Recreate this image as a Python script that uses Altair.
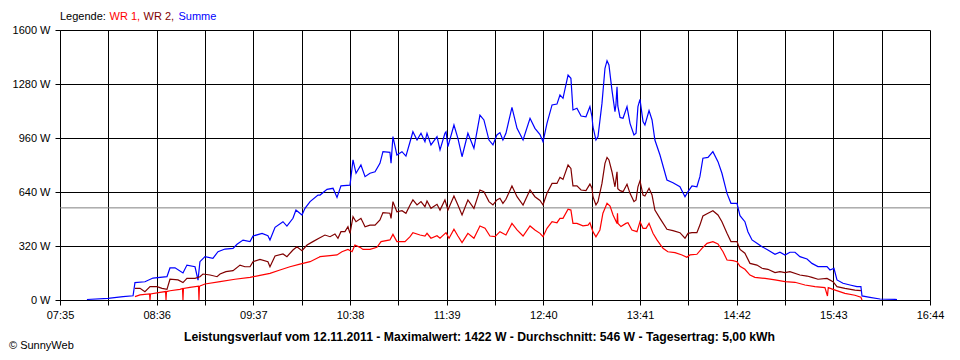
import altair as alt
import pandas as pd

# ---- data (minutes since midnight, Watt) ----
sum_t = [472.0, 485.3, 494.8, 501.1, 502.3, 508.6, 513.7, 522.5, 524.4, 527.6, 532.6, 535.1, 540.2, 542.1,
         543.3, 546.5, 551.5, 554.7, 559.1, 564.2, 566.7, 570.5, 574.9, 576.8, 582.5, 586.2, 587.5, 590.7,
         595.7, 598.2, 602.0, 603.9, 607.7, 609.6, 612.8, 617.8, 619.1, 623.5, 627.3, 629.8, 632.3, 638.0,
         639.9, 641.8, 644.9, 647.5, 650.6, 653.8, 656.9, 658.8, 663.2, 663.9, 665.1, 667.6, 670.8, 673.3,
         675.9, 677.7, 680.3, 682.8, 685.3, 686.6, 689.1, 692.9, 694.8, 697.9, 698.6, 699.8, 703.6, 706.1,
         708.7, 712.4, 716.2, 720.0, 722.5, 725.7, 728.2, 730.7, 732.6, 734.5, 736.4, 740.2, 743.4, 747.2,
         751.6, 754.7, 757.9, 759.8, 762.3, 765.5, 768.6, 770.5, 772.4, 775.6, 777.4, 778.7, 781.2, 783.8,
         786.9, 789.4, 790.7, 791.3, 793.2, 794.5, 797.0, 798.9, 800.2, 801.4, 803.3, 805.2, 805.8, 806.5,
         807.0, 808.4, 810.3, 812.8, 814.7, 817.2, 818.5, 819.7, 821.0, 822.9, 824.1, 826.7, 828.6, 830.4,
         833.6, 838.0, 841.8, 846.2, 849.4, 851.3, 853.8, 856.9, 858.8, 860.7, 863.9, 867.0, 870.2, 872.7,
         875.9, 878.4, 882.2, 884.1, 887.2, 889.1, 891.7, 894.8, 898.0, 901.7, 906.2, 909.3, 912.5, 915.6,
         918.8, 921.9, 926.4, 929.5, 933.3, 935.8, 939.0, 940.9, 943.4, 945.3, 949.1, 953.5, 957.9, 960.4,
         961.1, 966.1, 972.4, 981.9, 983.2]
sum_w = [3, 10, 20, 25, 103, 108, 130, 138, 190, 191, 160, 207, 197, 118,
         227, 257, 247, 286, 302, 306, 330, 355, 346, 379, 395, 381, 356, 431,
         464, 438, 484, 533, 504, 543, 583, 622, 622, 656, 662, 608, 676, 681,
         830, 751, 800, 731, 751, 760, 810, 879, 875, 810, 968, 859, 879, 853,
         938, 997, 948, 988, 938, 988, 919, 968, 889, 988, 997, 909, 1037, 958,
         849, 988, 899, 1096, 1067, 948, 919, 978, 992, 948, 988, 1142, 1017, 948,
         1077, 1017, 980, 938, 1047, 1156, 1161, 1215, 1195, 1333, 1314, 1126, 1136, 1090,
         1086, 1146, 1086, 1027, 948, 968, 1165, 1373, 1418, 1393, 1244, 1116, 1156, 1264,
         1150, 1082, 1077, 1146, 1047, 978, 988, 1146, 1189, 1057, 1037, 1122, 1067, 948,
         859, 711, 695, 671, 612, 642, 676, 671, 731, 840, 845, 879, 820, 751,
         632, 573, 573, 500, 464, 405, 356, 336, 316, 296, 271, 283, 267, 283,
         283, 257, 243, 217, 198, 198, 198, 178, 188, 119, 99, 89, 79, 79,
         24, 16, 6, 4, 3]

wr2_t = [502.3, 505.5, 508.6, 511.8, 516.2, 519.4, 522.5, 524.4, 529.5, 532.6, 535.1, 540.2, 543.3, 545.2,
         549.7, 554.1, 556.0, 559.7, 564.2, 568.6, 571.7, 574.9, 576.8, 581.2, 586.2, 587.5, 590.7, 595.7,
         598.2, 602.0, 604.5, 607.7, 610.9, 614.6, 618.4, 622.2, 625.4, 628.5, 630.4, 632.3, 634.8, 636.7,
         638.0, 639.9, 641.8, 644.9, 647.5, 650.6, 653.8, 656.9, 658.8, 663.2, 663.9, 665.1, 667.6, 670.8,
         673.3, 675.9, 677.7, 680.3, 682.8, 685.3, 686.6, 689.1, 692.9, 694.8, 697.9, 699.8, 703.6, 706.1,
         708.7, 712.4, 716.2, 720.0, 722.5, 725.7, 728.2, 730.7, 732.6, 734.5, 736.4, 740.2, 743.4, 747.2,
         751.6, 754.7, 757.9, 759.8, 762.3, 765.5, 768.6, 770.5, 772.4, 775.6, 777.4, 778.7, 781.2, 783.8,
         786.9, 789.4, 790.7, 791.3, 793.2, 794.5, 797.0, 798.9, 800.2, 801.4, 803.3, 805.2, 806.5, 807.0,
         808.4, 810.3, 812.8, 814.7, 817.2, 818.5, 819.7, 821.0, 822.9, 824.1, 826.7, 828.6, 830.4, 833.6,
         838.0, 841.8, 846.2, 849.4, 851.3, 853.8, 856.9, 858.8, 860.7, 863.9, 867.0, 870.2, 872.7, 875.9,
         878.4, 882.2, 884.1, 887.2, 890.4, 894.8, 898.0, 901.7, 906.2, 909.3, 912.5, 915.6, 921.9, 926.4,
         929.5, 933.3, 939.0, 942.8, 945.3, 950.3, 956.6, 960.4]
wr2_w = [69, 69, 49, 79, 79, 69, 63, 123, 119, 103, 128, 128, 138, 154,
         148, 138, 154, 168, 174, 207, 197, 197, 227, 241, 227, 197, 261, 273,
         257, 296, 316, 292, 326, 346, 366, 385, 375, 391, 366, 405, 405, 434,
         395, 494, 464, 484, 434, 444, 444, 474, 518, 514, 484, 583, 523, 529,
         514, 563, 593, 563, 583, 553, 587, 543, 567, 533, 593, 533, 616, 563,
         504, 593, 543, 652, 642, 583, 563, 593, 603, 573, 597, 676, 612, 563,
         652, 612, 590, 563, 632, 691, 691, 727, 715, 800, 780, 676, 676, 652,
         648, 687, 662, 612, 563, 583, 691, 810, 845, 830, 760, 671, 760, 660,
         648, 642, 686, 632, 583, 593, 671, 707, 622, 616, 662, 622, 533, 484,
         419, 411, 399, 366, 395, 399, 399, 444, 498, 514, 529, 504, 464, 395,
         346, 346, 300, 277, 217, 207, 188, 182, 162, 168, 162, 168, 148, 142,
         134, 123, 128, 109, 79, 69, 59, 55]

wr1_t = [502.3, 505.5, 511.5, 511.8, 512.1, 518.1, 521.6, 521.9, 522.2, 524.4, 530.7, 532.3, 532.6, 532.9,
         537.0, 542.4, 542.7, 543.0, 543.3, 546.5, 556.0, 565.4, 574.9, 581.2, 587.5, 593.8, 600.1, 606.4,
         612.8, 618.4, 619.1, 625.4, 629.8, 632.9, 636.7, 639.3, 641.1, 644.3, 646.2, 650.6, 655.0, 657.6,
         663.2, 665.1, 667.6, 672.7, 675.9, 677.7, 682.2, 685.3, 686.6, 689.1, 692.9, 694.8, 698.6, 700.5,
         703.6, 706.1, 708.7, 712.4, 716.2, 720.0, 723.2, 726.3, 729.5, 732.6, 736.4, 740.2, 743.4, 747.2,
         751.6, 754.7, 757.9, 759.8, 762.3, 765.5, 768.6, 770.5, 772.4, 775.6, 777.4, 778.7, 781.2, 785.0,
         788.2, 789.4, 791.3, 793.2, 795.7, 797.6, 800.2, 802.1, 804.0, 806.5, 806.8, 807.1, 809.0, 812.1,
         813.4, 815.9, 819.1, 821.0, 822.9, 824.8, 826.7, 829.2, 831.7, 835.5, 838.6, 843.1, 847.5, 850.6,
         852.5, 856.9, 860.1, 863.3, 867.0, 870.2, 873.4, 875.9, 879.7, 882.2, 884.1, 887.2, 890.4, 893.5,
         899.9, 906.2, 912.5, 918.8, 925.1, 931.4, 937.7, 939.3, 939.8, 942.8, 950.3, 956.6, 960.4, 961.1]
wr1_w = [20, 30, 36, 0, 36, 45, 50, 0, 50, 55, 63, 68, 0, 68,
         75, 82, 0, 82, 83, 95, 109, 123, 134, 146, 158, 178, 197, 213,
         227, 253, 257, 263, 267, 286, 300, 286, 326, 312, 300, 300, 312, 346,
         356, 389, 346, 346, 375, 399, 385, 379, 395, 366, 381, 366, 399, 366,
         419, 379, 340, 395, 366, 439, 425, 379, 375, 405, 385, 454, 415, 379,
         439, 415, 395, 375, 425, 464, 458, 484, 484, 538, 533, 454, 454, 439,
         444, 458, 405, 375, 415, 514, 573, 557, 504, 454, 514, 454, 435, 454,
         458, 415, 405, 464, 425, 425, 454, 395, 356, 306, 286, 281, 267, 253,
         267, 271, 306, 336, 346, 332, 286, 237, 233, 227, 200, 182, 148, 134,
         128, 119, 109, 105, 89, 79, 73, 24, 73, 63, 39, 28, 16, 0]

series_names = ["WR 1", "WR 2", "Summe"]
series_colors = ["#ff0000", "#800000", "#0000ff"]
average_w = 546

y_tick_values = [0, 320, 640, 960, 1280, 1600]
x_tick_values = [455, 485.5, 516, 546.5, 577, 607.5, 638, 668.5, 699, 729.5,
                 760, 790.5, 821, 851.5, 882, 912.5, 943, 973.5, 1004]
x_label_values = [455, 516, 577, 638, 699, 760, 821, 882, 943, 1004]
x_tick_labels = ["07:35", "08:36", "09:37", "10:38", "11:39", "12:40",
                 "13:41", "14:42", "15:43", "16:44"]

title_text = ("Leistungsverlauf vom 12.11.2011 - Maximalwert: 1422 W - "
              "Durchschnitt: 546 W - Tagesertrag: 5,00 kWh")
copyright_text = "© SunnyWeb"
legend_parts = ["Legende:", "WR 1,", "WR 2,", "Summe"]
legend_colors = ["#000000", "#ff0000", "#800000", "#0000ff"]

FONT = "Liberation Sans"

# ---- build table ----
rows = []
for name, ts, ws in [("Summe", sum_t, sum_w), ("WR 2", wr2_t, wr2_w), ("WR 1", wr1_t, wr1_w)]:
    for i, (t, w) in enumerate(zip(ts, ws)):
        rows.append({"t": t, "w": w, "series": name, "order": i})
df = pd.DataFrame(rows)

label_expr = ""
for v, lab in zip(x_label_values, x_tick_labels):
    label_expr += f"datum.value == {v} ? '{lab}' : "
label_expr += "''"

x_scale = alt.Scale(domain=[455, 1004], nice=False, zero=False)
y_scale = alt.Scale(domain=[0, 1600], nice=False)

x_axis = alt.Axis(values=x_tick_values, labelExpr=label_expr, title=None,
                  grid=True, gridColor="#000000", gridOpacity=1, gridWidth=1,
                  domainColor="#000000", tickColor="#000000", tickSize=5,
                  labelPadding=4, labelFlush=False, labelOverlap=False,
                  labelFont=FONT, labelFontSize=11, labelColor="#000000")
y_axis = alt.Axis(values=y_tick_values, labelExpr="datum.value + ' W'", title=None,
                  grid=True, gridColor="#000000", gridOpacity=1, gridWidth=1,
                  domainColor="#000000", tickColor="#000000", tickSize=5,
                  labelPadding=5, labelFlush=False, labelOverlap=False,
                  labelFont=FONT, labelFontSize=11, labelColor="#000000")

avg_rule = alt.Chart(pd.DataFrame({"w": [average_w]})).mark_rule(
    color="#808080", strokeWidth=1
).encode(y=alt.Y("w:Q", scale=y_scale, axis=y_axis))

lines = alt.Chart(df).mark_line(strokeWidth=1.2, interpolate="linear").encode(
    x=alt.X("t:Q", scale=x_scale, axis=x_axis),
    y=alt.Y("w:Q", scale=y_scale, axis=y_axis),
    color=alt.Color("series:N", scale=alt.Scale(domain=series_names, range=series_colors), legend=None),
    order="order:Q",
)

legend_x = [0, 49.5, 83.5, 118.5]
legend_layers = []
for txt, col, lx in zip(legend_parts, legend_colors, legend_x):
    legend_layers.append(
        alt.Chart(pd.DataFrame({"s": [txt]})).mark_text(
            align="left", baseline="middle", font=FONT, fontSize=11, color=col
        ).encode(x=alt.value(lx), y=alt.value(-13), text="s:N")
    )

title_mark = alt.Chart(pd.DataFrame({"s": [title_text]})).mark_text(
    align="center", baseline="middle", font=FONT, fontSize=12.2, fontWeight="bold", color="#000000"
).encode(x=alt.value(419.5), y=alt.value(307), text="s:N")

copy_mark = alt.Chart(pd.DataFrame({"s": [copyright_text]})).mark_text(
    align="left", baseline="middle", font=FONT, fontSize=11, color="#000000"
).encode(x=alt.value(-51), y=alt.value(316), text="s:N")

chart = alt.layer(avg_rule, lines, title_mark, copy_mark, *legend_layers).properties(
    width=870, height=270,
    autosize=alt.AutoSizeParams(type="none"),
    padding={"left": 52, "top": 22, "right": 20, "bottom": 52},
    background="#ffffff",
).configure_view(strokeWidth=0)

chart.save("out.html", embed_options={"renderer": "svg", "actions": False})
